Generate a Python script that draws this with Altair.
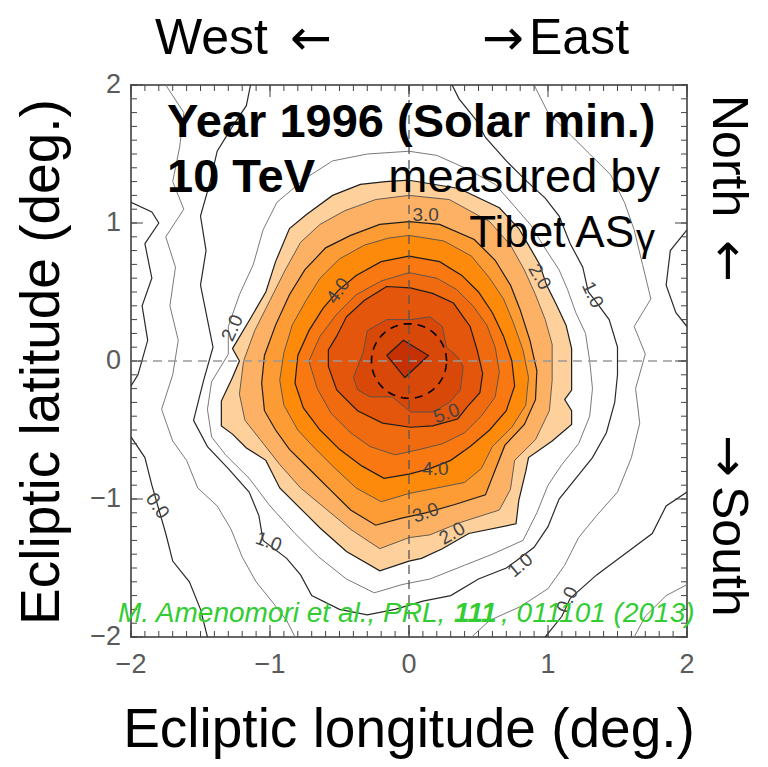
import altair as alt
import numpy as np
import pandas as pd

FONT = "Liberation Sans, Arial, Helvetica, sans-serif"
FONT_NARROW = "Liberation Sans Narrow, Arial Narrow, Liberation Sans, Arial, sans-serif"
ARROW_FONT = "DejaVu Sans, Liberation Sans, sans-serif"
W, H = 556, 552

# ---------------- filled contour levels (ecliptic lon/lat in degrees) ----------------
LEVELS = [2.0, 2.5, 3.0, 3.5, 4.0, 4.5, 5.0, 5.5, 6.0]
FILL_COLORS = ["#fdd09c", "#fdb164", "#fd9b35", "#fd8a0b", "#f97812",
               "#f06a10", "#e4560b", "#d84808", "#c53104"]

C20_X = [0.00, 0.36, 0.65, 0.79, 0.86, 0.94, 0.99, 1.06, 1.13, 1.17, 1.17, 1.12, 1.17, 1.17, 1.03,
         0.86, 0.84, 0.79, 0.77, 0.43, 0.24, 0.09, 0.00, -0.21, -0.45, -0.64, -0.74, -0.93, -1.03,
         -1.17, -1.27, -1.35, -1.35, -1.27, -1.22, -1.27, -1.14, -1.03, -0.96, -0.86, -0.74, -0.55,
         -0.35, -0.17]
C20_Y = [1.31, 1.25, 1.11, 0.96, 0.84, 0.70, 0.55, 0.41, 0.26, 0.09, -0.21, -0.28, -0.36, -0.46,
         -0.58, -0.70, -0.80, -1.01, -1.18, -1.25, -1.36, -1.43, -1.45, -1.52, -1.38, -1.21, -1.11,
         -0.92, -0.72, -0.63, -0.53, -0.47, -0.29, -0.12, 0.00, 0.09, 0.31, 0.50, 0.72, 0.96, 1.06,
         1.20, 1.28, 1.30]

C25_X = [0.00, 0.29, 0.58, 0.73, 0.83, 0.91, 0.98, 1.03, 1.03, 1.01, 0.91, 0.76, 0.73, 0.65, 0.37,
         0.15, 0.00, -0.21, -0.42, -0.60, -0.78, -0.93, -1.07, -1.18, -1.22, -1.19, -1.11, -1.00,
         -0.89, -0.78, -0.64, -0.46, -0.24]
C25_Y = [1.20, 1.17, 1.01, 0.84, 0.66, 0.48, 0.30, 0.12, -0.14, -0.36, -0.57, -0.72, -0.93, -1.08,
         -1.17, -1.26, -1.28, -1.36, -1.22, -1.07, -0.92, -0.75, -0.57, -0.43, -0.24, 0.00, 0.22,
         0.44, 0.66, 0.86, 0.99, 1.09, 1.17]

C30_X = [0.00, 0.22, 0.47, 0.62, 0.73, 0.80, 0.87, 0.92, 0.91, 0.83, 0.69, 0.62, 0.55, 0.33, 0.12,
         -0.06, -0.24, -0.42, -0.57, -0.71, -0.86, -0.96, -1.04, -1.06, -1.04, -0.96, -0.86, -0.75,
         -0.60, -0.42, -0.21]
C30_Y = [1.01, 0.99, 0.88, 0.73, 0.55, 0.37, 0.15, -0.07, -0.28, -0.46, -0.61, -0.79, -0.97, -1.04,
         -1.10, -1.14, -1.19, -1.08, -0.93, -0.79, -0.64, -0.50, -0.36, -0.16, 0.04, 0.26, 0.48, 0.66,
         0.82, 0.91, 0.99]

C35_X = [0.00, 0.25, 0.45, 0.58, 0.68, 0.75, 0.82, 0.86, 0.84, 0.74, 0.60, 0.52, 0.40, 0.20, 0.00,
         -0.20, -0.38, -0.53, -0.68, -0.80, -0.90, -0.93, -0.90, -0.84, -0.74, -0.64, -0.50, -0.32,
         -0.15]
C35_Y = [0.91, 0.87, 0.76, 0.60, 0.45, 0.28, 0.08, -0.12, -0.32, -0.48, -0.62, -0.78, -0.88, -0.92,
         -0.96, -1.02, -0.92, -0.78, -0.63, -0.50, -0.32, -0.14, 0.06, 0.26, 0.44, 0.60, 0.74, 0.84,
         0.89]

C40_X = [0.00, 0.22, 0.38, 0.50, 0.60, 0.68, 0.74, 0.76, 0.70, 0.58, 0.44, 0.30, 0.15, 0.00, -0.18,
         -0.34, -0.50, -0.64, -0.76, -0.82, -0.80, -0.72, -0.62, -0.51, -0.38, -0.20]
C40_Y = [0.76, 0.72, 0.62, 0.50, 0.35, 0.18, 0.00, -0.18, -0.36, -0.50, -0.62, -0.72, -0.78, -0.82,
         -0.85, -0.76, -0.64, -0.50, -0.34, -0.16, 0.04, 0.22, 0.38, 0.51, 0.62, 0.72]

C45_X = [0.00, 0.20, 0.34, 0.46, 0.56, 0.62, 0.65, 0.62, 0.52, 0.40, 0.24, 0.08, -0.10, -0.28, -0.42,
         -0.56, -0.66, -0.72, -0.64, -0.52, -0.38, -0.20]
C45_Y = [0.64, 0.60, 0.52, 0.40, 0.26, 0.10, -0.08, -0.26, -0.40, -0.52, -0.60, -0.64, -0.68, -0.62,
         -0.52, -0.38, -0.20, 0.00, 0.18, 0.34, 0.48, 0.58]

C50_X = [-0.16, 0.01, 0.17, 0.32, 0.39, 0.44, 0.49, 0.53, 0.51, 0.42, 0.35, 0.17, 0.01, -0.19, -0.37,
         -0.52, -0.58, -0.58, -0.52, -0.45, -0.32]
C50_Y = [0.54, 0.53, 0.49, 0.42, 0.32, 0.25, 0.08, -0.09, -0.23, -0.33, -0.42, -0.47, -0.48, -0.45,
         -0.36, -0.21, -0.04, 0.08, 0.18, 0.32, 0.44]

C55_X = [-0.30, -0.16, 0.01, 0.15, 0.24, 0.27, 0.35, 0.39, 0.37, 0.29, 0.17, 0.01, -0.12, -0.28,
         -0.37, -0.40, -0.33]
C55_Y = [0.22, 0.30, 0.30, 0.32, 0.25, 0.10, 0.03, -0.04, -0.21, -0.30, -0.37, -0.37, -0.26, -0.26,
         -0.21, -0.12, 0.06]

C60_X = [-0.16, -0.04, 0.14, -0.03]
C60_Y = [0.04, 0.15, 0.04, -0.12]

# ---------------- open contour lines outside the filled region ----------------
L15_X = [-0.30, 0.00, 0.20, 0.40, 0.62, 0.76, 0.88, 0.97, 1.08, 1.14, 1.20, 1.27, 1.30, 1.32, 1.30,
         1.22, 1.10, 1.00, 0.92, 0.82, 0.60, 0.40, 0.15, -0.05, -0.25, -0.45, -0.65, -0.82, -1.00,
         -1.15, -1.32, -1.42, -1.45, -1.42, -1.30, -1.30, -1.22, -1.12, -1.05, -0.95, -0.75, -0.55,
         -0.30]
L15_Y = [1.50, 1.52, 1.49, 1.40, 1.28, 1.12, 0.98, 0.83, 0.66, 0.52, 0.35, 0.20, 0.00, -0.20, -0.40,
         -0.60, -0.75, -0.90, -1.10, -1.30, -1.40, -1.48, -1.58, -1.62, -1.68, -1.58, -1.42, -1.25,
         -1.05, -0.85, -0.68, -0.55, -0.35, -0.15, 0.05, 0.25, 0.48, 0.70, 0.95, 1.15, 1.32, 1.45,
         1.50]

L10_X = [-1.14, -1.17, -1.27, -1.38, -1.43, -1.50, -1.46, -1.50, -1.45, -1.41, -1.48, -1.55, -1.45,
         -1.30, -1.15, -1.08, -1.05, -0.88, -0.78, -0.70, -0.50, -0.30, -0.10, 0.10, 0.30, 0.50,
         0.70, 0.77, 0.90, 1.00, 1.08, 1.20, 1.32, 1.42, 1.48, 1.50, 1.50, 1.44, 1.33, 1.29, 1.25,
         1.16, 1.08, 0.98, 0.85, 0.70, 0.55, 0.48, 0.36, 0.31]
L10_Y = [2.00, 1.85, 1.70, 1.52, 1.30, 1.05, 0.80, 0.55, 0.30, 0.10, -0.15, -0.43, -0.62, -0.78,
         -0.95, -1.12, -1.30, -1.43, -1.55, -1.70, -1.80, -1.84, -1.80, -1.74, -1.70, -1.58, -1.50,
         -1.45, -1.35, -1.20, -1.00, -0.85, -0.70, -0.52, -0.30, -0.10, 0.10, 0.30, 0.45, 0.50, 0.68,
         0.85, 1.05, 1.18, 1.30, 1.45, 1.62, 1.75, 1.90, 2.00]

L05A_X = [-1.75, -1.62, -1.65, -1.70, -1.62, -1.75, -1.68, -1.72, -1.66, -1.70, -1.78, -1.70, -1.60,
          -1.52, -1.38, -1.28, -1.20, -1.10, -0.98, -0.88, -0.82]
L05A_Y = [2.00, 1.80, 1.55, 1.30, 1.10, 0.90, 0.68, 0.40, 0.15, -0.10, -0.35, -0.58, -0.72, -0.92,
          -1.05, -1.22, -1.42, -1.60, -1.75, -1.88, -2.00]
L05B_X = [0.45, 0.58, 0.80, 1.00, 1.12, 1.22, 1.35, 1.50, 1.60, 1.66, 1.63, 1.70, 1.62, 1.74, 1.68,
          1.62, 1.55, 1.45, 1.30, 1.15, 1.00, 0.90]
L05B_Y = [-2.00, -1.88, -1.78, -1.65, -1.48, -1.28, -1.12, -0.95, -0.70, -0.45, -0.20, 0.05, 0.25,
          0.45, 0.70, 0.95, 1.15, 1.35, 1.50, 1.65, 1.80, 2.00]

L00A_X = [-2.00, -1.85, -1.80, -1.90, -1.85, -1.92, -1.88, -1.95, -2.00]
L00A_Y = [1.15, 1.08, 1.00, 0.85, 0.60, 0.40, 0.15, -0.10, -0.18]
L00B_X = [-2.00, -1.90, -1.85, -1.81, -1.75, -1.70, -1.58, -1.50, -1.45]
L00B_Y = [-0.55, -0.70, -0.90, -1.04, -1.25, -1.45, -1.60, -1.80, -2.00]
L00C_X = [0.98, 1.10, 1.16, 1.35, 1.55, 1.75, 1.85, 2.00]
L00C_Y = [-2.00, -1.85, -1.72, -1.55, -1.40, -1.25, -1.05, -0.95]
L00D_X = [2.00, 1.88, 1.85, 1.92, 2.00]
L00D_Y = [0.95, 0.80, 0.55, 0.35, 0.25]

LM05_X = [1.62, 1.70, 1.85, 2.00]
LM05_Y = [-2.00, -1.85, -1.70, -1.62]

# contour labels: text, lon, lat, angle
LAB_TEXT = ["2.0", "3.0", "4.0", "2.0", "1.0", "5.0", "4.0", "3.0", "2.0", "1.0", "0.0", "1.0", "0.0"]
LAB_X = [-1.27, 0.12, -0.51, 0.94, 1.32, 0.27, 0.19, 0.12, 0.31, 0.80, 1.14, -1.01, -1.81]
LAB_Y = [0.24, 1.06, 0.51, 0.61, 0.48, -0.38, -0.78, -1.10, -1.25, -1.48, -1.73, -1.31, -1.05]
LAB_ANGLE = [295, 0, 305, 60, 65, 340, 0, 340, 330, 320, 295, 20, 55]

SUN_R = 0.27  # apparent solar disk radius (deg)

MAJOR_TICKS = [-2, -1, 0, 1, 2]
TICK_LABELS = ["\u22122", "\u22121", "0", "1", "2"]
MINOR_TICKS = [round(v, 1) for v in np.arange(-2.0, 2.001, 0.1)]

# ---------------- scales ----------------
xs = alt.Scale(domain=[-2, 2], nice=False, zero=False)
ys = alt.Scale(domain=[-2, 2], nice=False, zero=False)
X = alt.X("x:Q", scale=xs, axis=None)
Y = alt.Y("y:Q", scale=ys, axis=None)

layers = []

# open contour lines
def seg_df(segs):
    rows = []
    for sid, (sx, sy) in enumerate(segs):
        for i, (a, b) in enumerate(zip(sx, sy)):
            rows.append({"x": a, "y": b, "i": i, "seg": sid})
    return pd.DataFrame(rows)

gray_lines = seg_df([(L15_X, L15_Y), (L05A_X, L05A_Y), (L05B_X, L05B_Y), (LM05_X, LM05_Y)])
black_lines = seg_df([(L10_X, L10_Y), (L00A_X, L00A_Y), (L00B_X, L00B_Y), (L00C_X, L00C_Y),
                      (L00D_X, L00D_Y)])
layers.append(alt.Chart(gray_lines).mark_line(color="#7a7a7a", strokeWidth=1.0, clip=True)
              .encode(x=X, y=Y, detail="seg:N", order="i:Q"))
layers.append(alt.Chart(black_lines).mark_line(color="#2a2a2a", strokeWidth=1.2, clip=True)
              .encode(x=X, y=Y, detail="seg:N", order="i:Q"))

# filled contour polygons
POLYS = [(C20_X, C20_Y), (C25_X, C25_Y), (C30_X, C30_Y), (C35_X, C35_Y), (C40_X, C40_Y),
         (C45_X, C45_Y), (C50_X, C50_Y), (C55_X, C55_Y), (C60_X, C60_Y)]
for lev, (px, py), fc in zip(LEVELS, POLYS, FILL_COLORS):
    df = pd.DataFrame({"x": list(px) + [px[0]], "y": list(py) + [py[0]]})
    df["i"] = range(len(df))
    integer = float(lev).is_integer()
    layers.append(alt.Chart(df).mark_line(
        fill=fc, stroke="#1e1e1e" if integer else "#505050",
        strokeWidth=1.2 if integer else 0.9, clip=True).encode(x=X, y=Y, order="i:Q"))

# contour labels
lab_df = pd.DataFrame({"x": LAB_X, "y": LAB_Y, "t": LAB_TEXT, "a": LAB_ANGLE})
layers.append(alt.Chart(lab_df).mark_text(font=FONT, fontSize=19, color="#444444")
              .encode(x=X, y=Y, text="t:N", angle=alt.Angle("a:Q", scale=None)))

# dashed cross lines
zero_df = pd.DataFrame({"v": [0]})
layers.append(alt.Chart(zero_df).mark_rule(color="#999999", strokeDash=[9, 6], strokeWidth=1.3)
              .encode(y=alt.Y("v:Q", scale=ys, axis=None)))
layers.append(alt.Chart(zero_df).mark_rule(color="#555555", strokeDash=[9, 6], strokeWidth=1.3)
              .encode(x=alt.X("v:Q", scale=xs, axis=None)))

# solar disk
th = np.linspace(0, 2 * np.pi, 73)
sun_df = pd.DataFrame({"x": SUN_R * np.cos(th), "y": SUN_R * np.sin(th), "i": range(len(th))})
layers.append(alt.Chart(sun_df).mark_line(color="black", strokeDash=[8, 6], strokeWidth=1.6)
              .encode(x=X, y=Y, order="i:Q"))

# inward ticks on all four sides
TICKC = "#444444"
for vals, L in [(MINOR_TICKS, 6), (MAJOR_TICKS, 12)]:
    tdf = pd.DataFrame({"v": vals})
    tx = alt.X("v:Q", scale=xs, axis=None)
    ty = alt.Y("v:Q", scale=ys, axis=None)
    layers.append(alt.Chart(tdf).mark_rule(color=TICKC, strokeWidth=1)
                  .encode(x=tx, y=alt.value(H), y2=alt.value(H - L)))
    layers.append(alt.Chart(tdf).mark_rule(color=TICKC, strokeWidth=1)
                  .encode(x=tx, y=alt.value(0), y2=alt.value(L)))
    layers.append(alt.Chart(tdf).mark_rule(color=TICKC, strokeWidth=1)
                  .encode(y=ty, x=alt.value(0), x2=alt.value(L)))
    layers.append(alt.Chart(tdf).mark_rule(color=TICKC, strokeWidth=1)
                  .encode(y=ty, x=alt.value(W), x2=alt.value(W - L)))

# tick labels
lbl_df = pd.DataFrame({"v": MAJOR_TICKS, "t": TICK_LABELS})
layers.append(alt.Chart(lbl_df).mark_text(font=FONT_NARROW, fontSize=27, color="#5a5a5a",
                                          baseline="middle", align="center")
              .encode(x=alt.X("v:Q", scale=xs, axis=None), y=alt.value(580), text="t:N"))
layers.append(alt.Chart(lbl_df).mark_text(font=FONT_NARROW, fontSize=27, color="#5a5a5a",
                                          baseline="middle", align="right")
              .encode(y=alt.Y("v:Q", scale=ys, axis=None), x=alt.value(-10), text="t:N"))

# annotation texts
one = pd.DataFrame({"a": [0]})

def txt(s, x, y, size, weight="normal", style="normal", color="black", align="left",
        angle=0, baseline="alphabetic", font=FONT):
    return alt.Chart(one).mark_text(text=s, font=font, fontSize=size, fontWeight=weight,
                                    fontStyle=style, color=color, align=align, angle=angle,
                                    baseline=baseline).encode(x=alt.value(x), y=alt.value(y))

layers += [
    # axis titles
    txt("Ecliptic longitude (deg.)", 278, 662, 55, align="center"),
    txt("Ecliptic latitude (deg.)", -72, 277, 55, align="center", angle=270),
    # in-plot annotations
    txt("Year 1996 (Solar min.)", 36, 52, 47, weight="bold"),
    txt("10 TeV", 36, 107, 47, weight="bold"),
    txt("measured by", 529, 107, 47, align="right"),
    txt("Tibet AS", 503, 162, 44, align="right"),
    txt("γ", 505, 166, 38),
    # direction labels
    txt("West", 24, -31, 50),
    txt("\u2190", 180, -45, 50, align="center", baseline="middle", font=ARROW_FONT),
    txt("\u2192", 372, -45, 50, align="center", baseline="middle", font=ARROW_FONT),
    txt("East", 398, -31, 50),
    txt("North", 582, 10, 50, angle=90),
    txt("\u2190", 596, 176, 50, angle=90, align="center", baseline="middle", font=ARROW_FONT),
    txt("\u2192", 596, 371, 50, angle=90, align="center", baseline="middle", font=ARROW_FONT),
    txt("South", 582, 401, 50, angle=90),
    # citation
    txt("M. Amenomori et al., PRL, ", -13, 537, 28, style="italic", color="#33cc33"),
    txt("111", 323, 537, 28, weight="bold", style="italic", color="#33cc33"),
    txt(", 011101 (2013)", 370, 537, 28, style="italic", color="#33cc33"),
]

chart = alt.layer(*layers).properties(
    width=W, height=H,
    padding={"left": 123, "top": 77, "right": 73, "bottom": 122},
    autosize=alt.AutoSizeParams(type="none"),
).configure_view(stroke="#666666", strokeWidth=2)

chart.save("out.html", embed_options={"renderer": "svg", "actions": False})
